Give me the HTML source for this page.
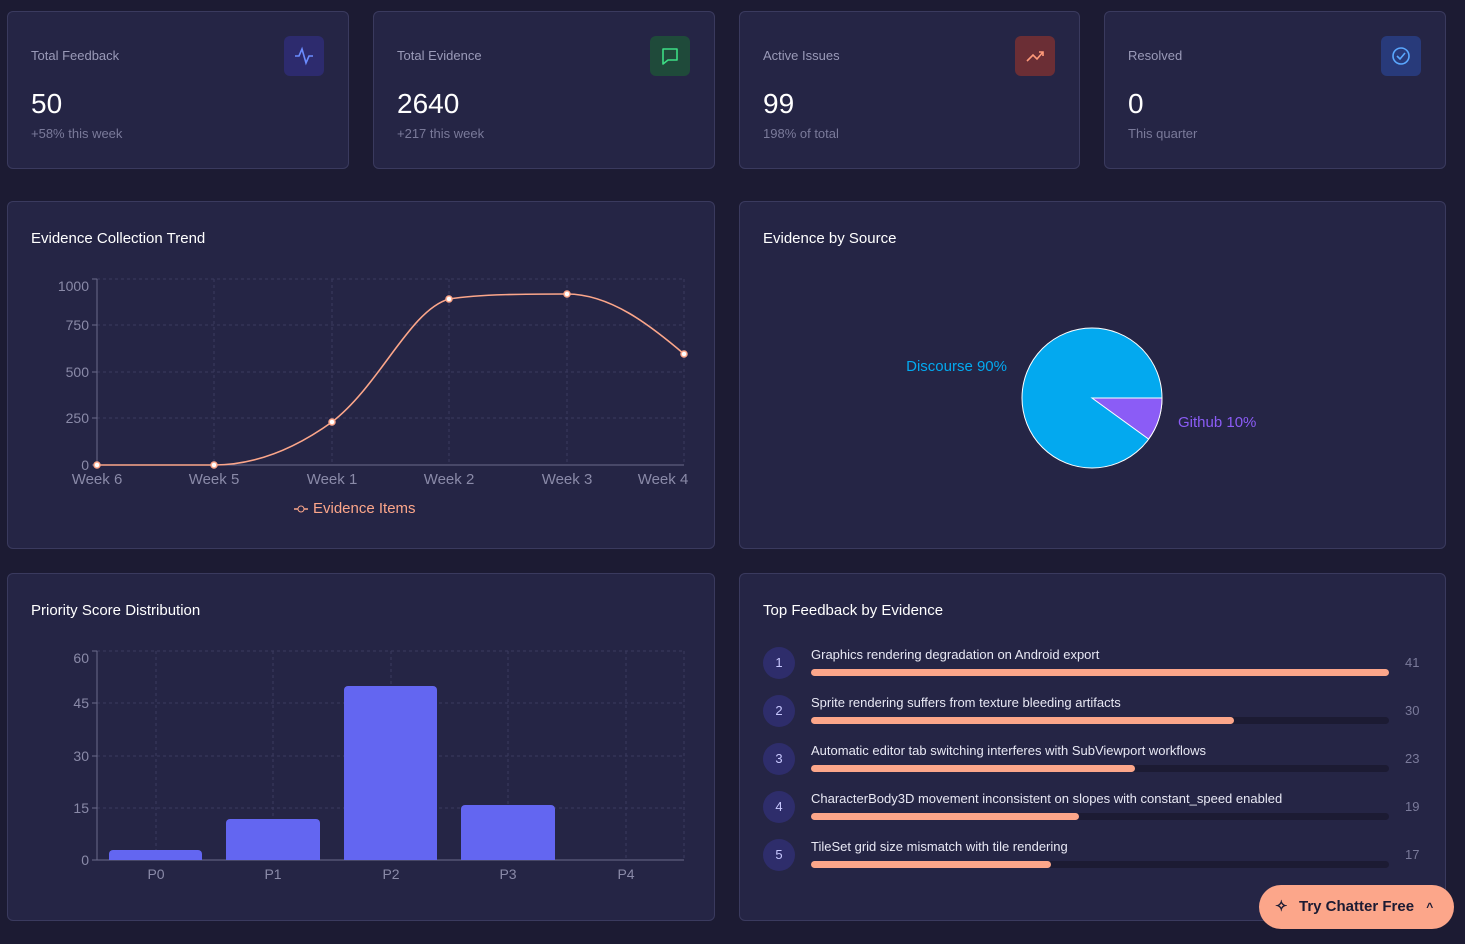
<!DOCTYPE html>
<html><head><meta charset="utf-8"><style>
*{box-sizing:border-box;margin:0;padding:0}
body{width:1465px;height:944px;background:#1c1b33;font-family:"Liberation Sans",sans-serif;position:relative;overflow:hidden;color:#fff}
.card{position:absolute;background:#252545;border:1px solid #3a3a5e;border-radius:6px}
.lbl{position:absolute;left:23px;top:36px;font-size:13px;color:#9a9ab8}
.val{position:absolute;left:23px;top:76px;font-size:28px;color:#fff}
.sub{position:absolute;left:23px;top:114px;font-size:13px;color:#7a7a9a}
.ic{position:absolute;right:24px;top:24px;width:40px;height:40px;border-radius:6px}
.title{position:absolute;left:23px;top:28px;font-size:15px;color:#fff}
.row{position:absolute;left:23px;width:660px;height:40px}
.num{position:absolute;left:0;top:0;width:32px;height:32px;border-radius:50%;background:#2e2d6b;color:#c8c8ff;font-size:13px;text-align:center;line-height:32px}
.rt{position:absolute;left:48px;top:0px;font-size:13px;color:#e8e8f4}
.track{position:absolute;left:48px;top:22px;width:578px;height:7px;border-radius:4px;background:#1c1b33}
.fill{height:7px;border-radius:4px;background:#fca68a}
.cnt{position:absolute;left:642px;top:8px;font-size:13px;color:#7a7a9a}
</style></head><body>
<div class="card" style="left:7px;top:11px;width:342px;height:158px">
<div class="lbl">Total Feedback</div><div class="val">50</div><div class="sub">+58% this week</div>
<div class="ic" style="background:#2d2b6e"><svg width="40" height="40"><polyline points="11,20 15,20 18,13 22,27 25,20 29,20" fill="none" stroke="#6b8cff" stroke-width="1.6"/></svg></div></div>
<div class="card" style="left:373px;top:11px;width:342px;height:158px">
<div class="lbl">Total Evidence</div><div class="val">2640</div><div class="sub">+217 this week</div>
<div class="ic" style="background:#1f4a3a"><svg width="40" height="40"><path d="M13 13h14v11h-9l-5 4z" fill="none" stroke="#3ddc84" stroke-width="1.6" stroke-linejoin="round"/></svg></div></div>
<div class="card" style="left:739px;top:11px;width:341px;height:158px">
<div class="lbl">Active Issues</div><div class="val">99</div><div class="sub">198% of total</div>
<div class="ic" style="background:#6b2e35"><svg width="40" height="40"><polyline points="12,25 18,19 22,23 28,16" fill="none" stroke="#ff9a7a" stroke-width="1.6"/><polyline points="24,16 28,16 28,20" fill="none" stroke="#ff9a7a" stroke-width="1.6"/></svg></div></div>
<div class="card" style="left:1104px;top:11px;width:342px;height:158px">
<div class="lbl">Resolved</div><div class="val">0</div><div class="sub">This quarter</div>
<div class="ic" style="background:#283a7a"><svg width="40" height="40"><circle cx="20" cy="20" r="8" fill="none" stroke="#5aa8ff" stroke-width="1.6"/><polyline points="16,20 19,23 24,17" fill="none" stroke="#5aa8ff" stroke-width="1.6"/></svg></div></div>

<div class="card" style="left:7px;top:201px;width:708px;height:348px"><div class="title">Evidence Collection Trend</div></div>
<div class="card" style="left:739px;top:201px;width:707px;height:348px"><div class="title">Evidence by Source</div></div>
<div class="card" style="left:7px;top:573px;width:708px;height:348px"><div class="title">Priority Score Distribution</div></div>
<div class="card" style="left:739px;top:573px;width:707px;height:348px"><div class="title">Top Feedback by Evidence</div>
<div class="row" style="top:73px"><div class="num">1</div><div class="rt">Graphics rendering degradation on Android export</div><div class="track"><div class="fill" style="width:100%"></div></div><div class="cnt">41</div></div>
<div class="row" style="top:121px"><div class="num">2</div><div class="rt">Sprite rendering suffers from texture bleeding artifacts</div><div class="track"><div class="fill" style="width:73.2%"></div></div><div class="cnt">30</div></div>
<div class="row" style="top:169px"><div class="num">3</div><div class="rt">Automatic editor tab switching interferes with SubViewport workflows</div><div class="track"><div class="fill" style="width:56.1%"></div></div><div class="cnt">23</div></div>
<div class="row" style="top:217px"><div class="num">4</div><div class="rt">CharacterBody3D movement inconsistent on slopes with constant_speed enabled</div><div class="track"><div class="fill" style="width:46.3%"></div></div><div class="cnt">19</div></div>
<div class="row" style="top:265px"><div class="num">5</div><div class="rt">TileSet grid size mismatch with tile rendering</div><div class="track"><div class="fill" style="width:41.5%"></div></div><div class="cnt">17</div></div>
</div>

<svg style="position:absolute;left:0;top:0" width="1465" height="944" font-family="Liberation Sans, sans-serif">
<g stroke="#3a3a5e" stroke-dasharray="3,3">
<line x1="97" y1="279" x2="684" y2="279"/><line x1="97" y1="325" x2="684" y2="325"/><line x1="97" y1="372" x2="684" y2="372"/><line x1="97" y1="418" x2="684" y2="418"/>
<line x1="214" y1="279" x2="214" y2="465"/><line x1="332" y1="279" x2="332" y2="465"/><line x1="449" y1="279" x2="449" y2="465"/><line x1="567" y1="279" x2="567" y2="465"/><line x1="684" y1="279" x2="684" y2="465"/>
</g>
<g stroke="#6a6a8a"><line x1="97" y1="279" x2="97" y2="465"/><line x1="97" y1="465" x2="684" y2="465"/>
<line x1="92" y1="279" x2="97" y2="279"/><line x1="92" y1="325" x2="97" y2="325"/><line x1="92" y1="372" x2="97" y2="372"/><line x1="92" y1="418" x2="97" y2="418"/><line x1="92" y1="465" x2="97" y2="465"/></g>
<g fill="#8a8aa8" font-size="14" text-anchor="end"><text x="89" y="291">1000</text><text x="89" y="330">750</text><text x="89" y="377">500</text><text x="89" y="423">250</text><text x="89" y="470">0</text></g>
<g fill="#8a8aa8" font-size="15" text-anchor="middle"><text x="97" y="484">Week 6</text><text x="214" y="484">Week 5</text><text x="332" y="484">Week 1</text><text x="449" y="484">Week 2</text><text x="567" y="484">Week 3</text><text x="663" y="484">Week 4</text></g>
<path d="M97,465 L214,465 C260,465 300,445 332,422 C380,385 410,310 449,299 C480,294 530,294 567,294 C610,294 650,325 684,354" fill="none" stroke="#fca68a" stroke-width="1.6"/>
<g fill="#fff" stroke="#fca68a" stroke-width="1.5"><circle cx="97" cy="465" r="3"/><circle cx="214" cy="465" r="3"/><circle cx="332" cy="422" r="3"/><circle cx="449" cy="299" r="3"/><circle cx="567" cy="294" r="3"/><circle cx="684" cy="354" r="3"/></g>
<line x1="294" y1="509" x2="308" y2="509" stroke="#fca68a" stroke-width="1.5"/><circle cx="301" cy="509" r="3" fill="#252545" stroke="#fca68a"/>
<text x="313" y="513" fill="#fca68a" font-size="15">Evidence Items</text>

<circle cx="1092" cy="398" r="70" fill="#03a9ef" stroke="#fff" stroke-width="1"/>
<path d="M1092,398 L1162,398 A70,70 0 0 1 1148.6,439.1 Z" fill="#8b5cf6" stroke="#fff" stroke-width="1"/>
<text x="1007" y="371" fill="#03a9ef" font-size="15" text-anchor="end">Discourse 90%</text>
<text x="1178" y="427" fill="#8b5cf6" font-size="15">Github 10%</text>

<g stroke="#3a3a5e" stroke-dasharray="3,3">
<line x1="97" y1="651" x2="684" y2="651"/><line x1="97" y1="703" x2="684" y2="703"/><line x1="97" y1="756" x2="684" y2="756"/><line x1="97" y1="808" x2="684" y2="808"/>
<line x1="156" y1="651" x2="156" y2="860"/><line x1="273" y1="651" x2="273" y2="860"/><line x1="391" y1="651" x2="391" y2="860"/><line x1="508" y1="651" x2="508" y2="860"/><line x1="626" y1="651" x2="626" y2="860"/><line x1="684" y1="651" x2="684" y2="860"/>
</g>
<g stroke="#6a6a8a"><line x1="97" y1="651" x2="97" y2="860"/><line x1="97" y1="860" x2="684" y2="860"/>
<line x1="92" y1="651" x2="97" y2="651"/><line x1="92" y1="703" x2="97" y2="703"/><line x1="92" y1="756" x2="97" y2="756"/><line x1="92" y1="808" x2="97" y2="808"/><line x1="92" y1="860" x2="97" y2="860"/></g>
<g fill="#8a8aa8" font-size="14" text-anchor="end"><text x="89" y="663">60</text><text x="89" y="708">45</text><text x="89" y="761">30</text><text x="89" y="813">15</text><text x="89" y="865">0</text></g>
<g fill="#8a8aa8" font-size="14" text-anchor="middle"><text x="156" y="879">P0</text><text x="273" y="879">P1</text><text x="391" y="879">P2</text><text x="508" y="879">P3</text><text x="626" y="879">P4</text></g>
<g fill="#6366f1"><path d="M109,860V854a4,4 0 0 1 4,-4H198a4,4 0 0 1 4,4V860Z"/><path d="M226,860V823a4,4 0 0 1 4,-4H316a4,4 0 0 1 4,4V860Z"/><path d="M344,860V690a4,4 0 0 1 4,-4H433a4,4 0 0 1 4,4V860Z"/><path d="M461,860V809a4,4 0 0 1 4,-4H551a4,4 0 0 1 4,4V860Z"/></g>
</svg>

<div style="position:absolute;left:1259px;top:885px;width:195px;height:44px;border-radius:22px;background:#fca68a;color:#1c1b33;font-size:15px;font-weight:bold;line-height:44px;padding-left:40px">Try Chatter Free <span style="margin-left:8px;font-size:12px">^</span>
<span style="position:absolute;left:16px;top:0;font-size:15px">✧</span></div>
</body></html>
